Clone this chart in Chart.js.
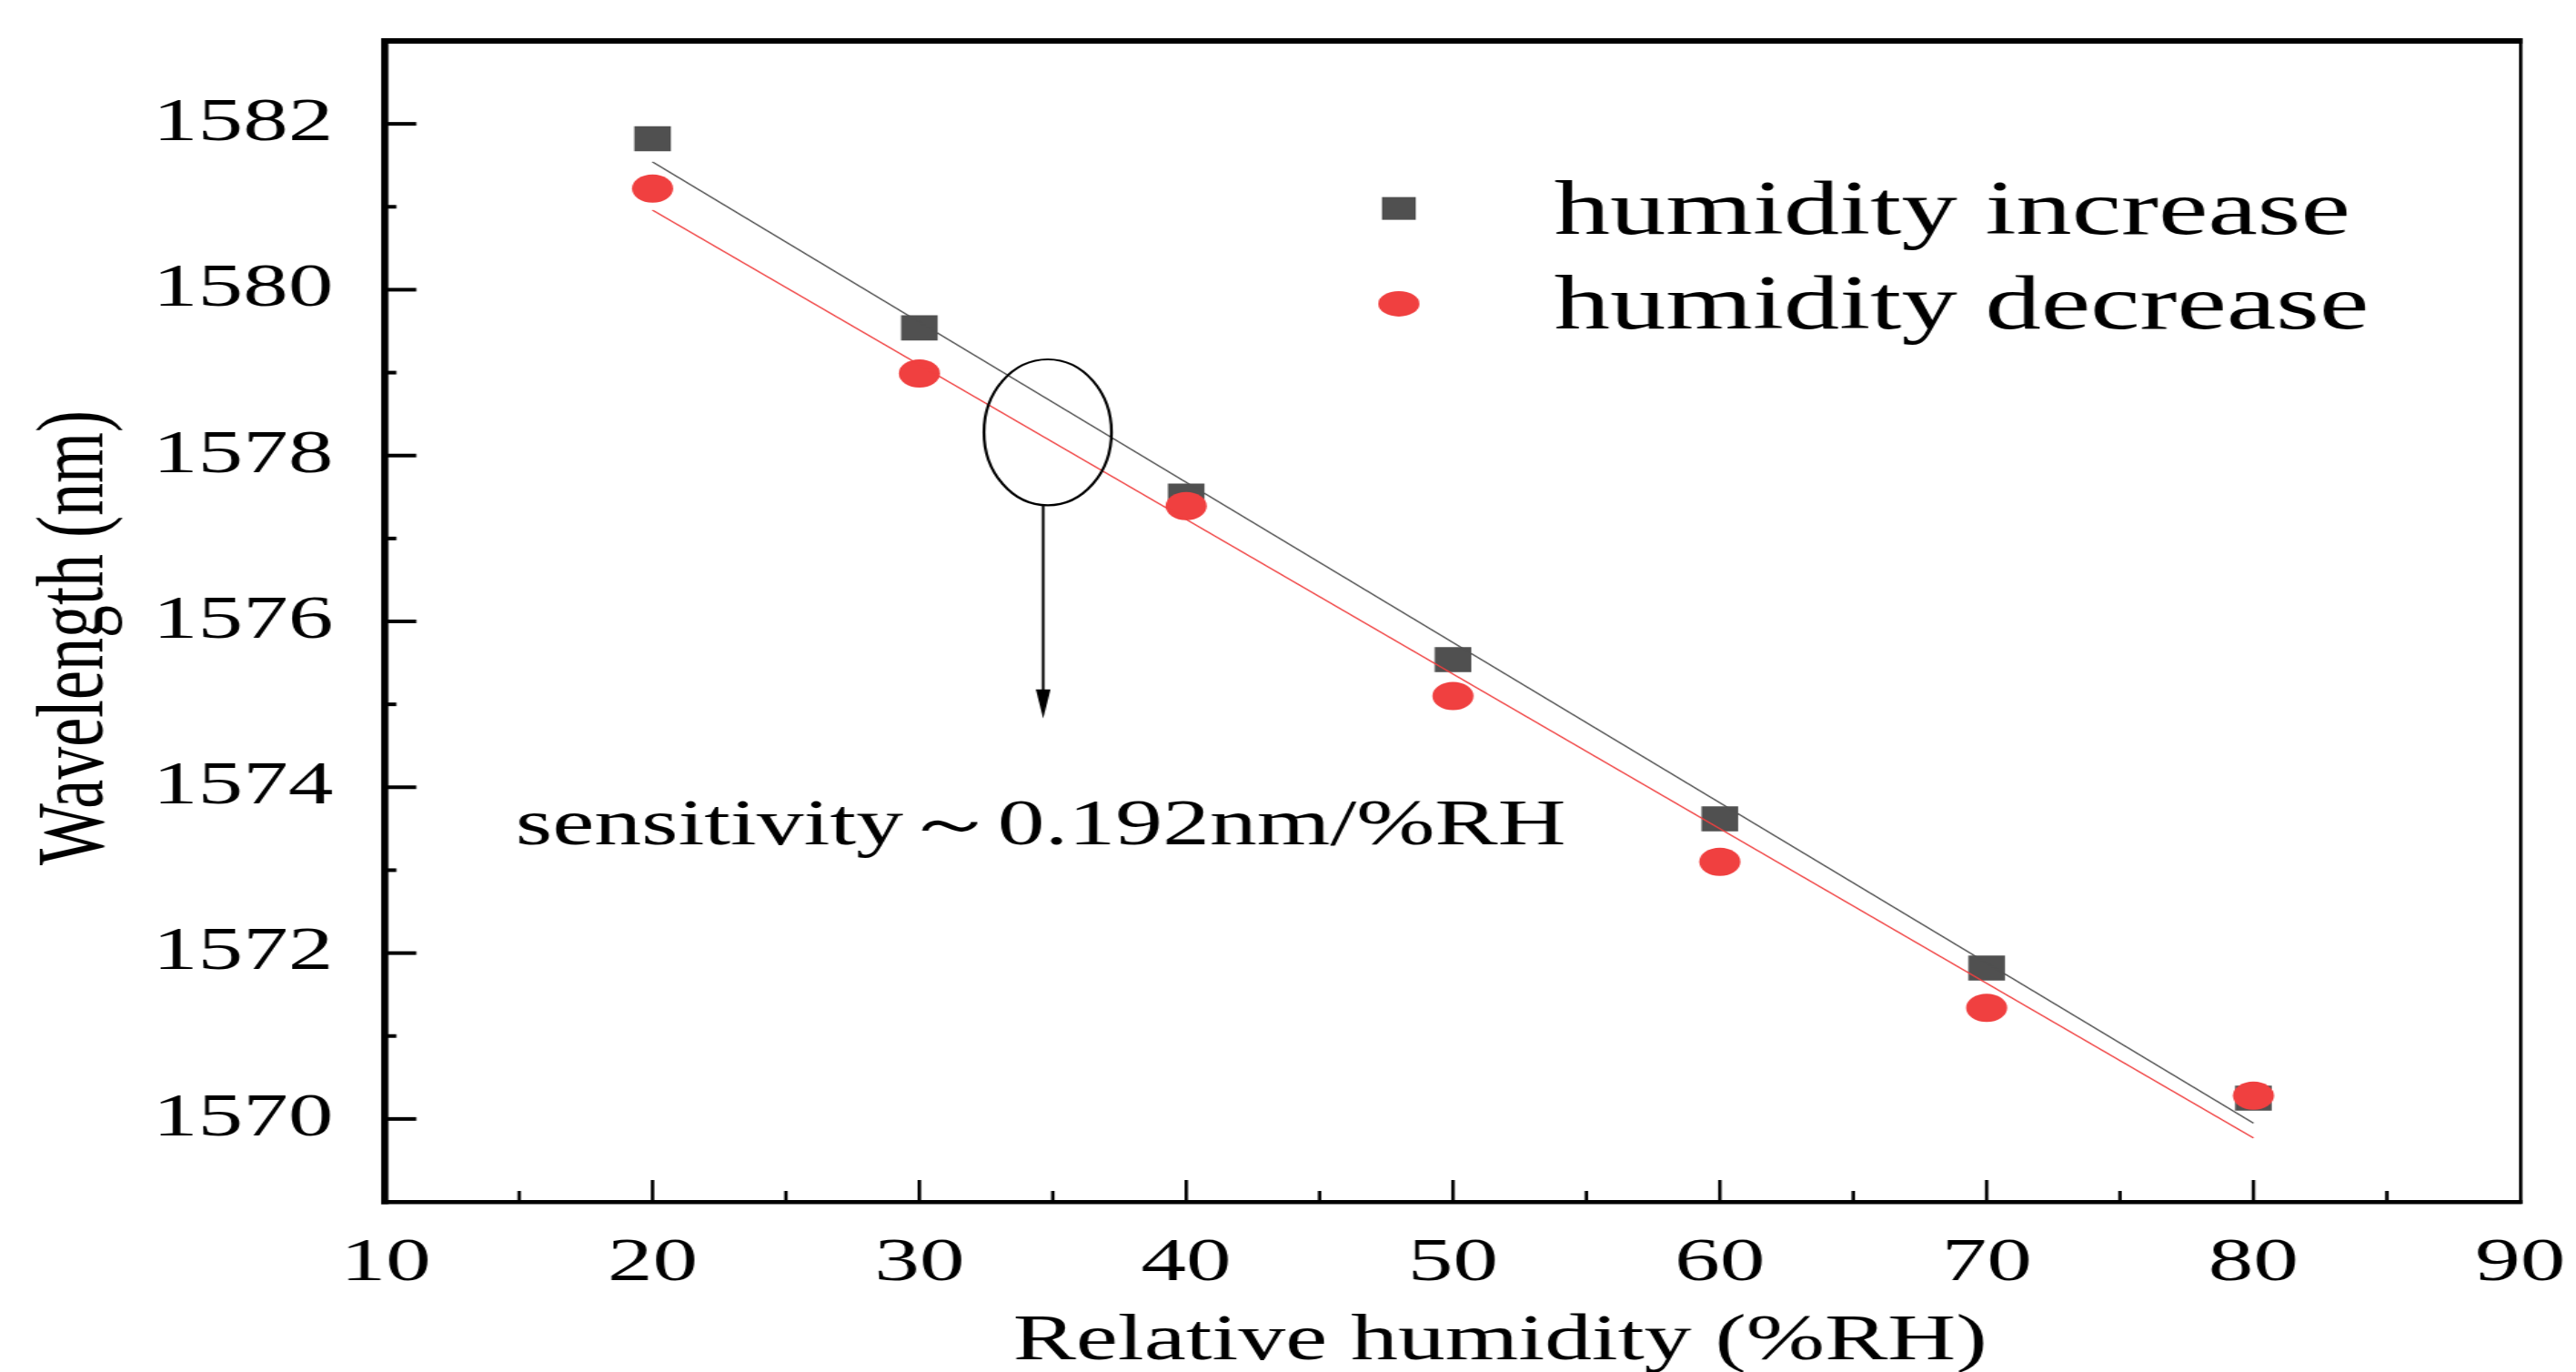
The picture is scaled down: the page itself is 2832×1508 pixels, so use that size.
<!DOCTYPE html>
<html>
<head>
<meta charset="utf-8">
<script src="https://cdn.jsdelivr.net/npm/chart.js@4.4.1/dist/chart.umd.min.js"></script>
<style>
  html, body { margin: 0; padding: 0; background: #fff; overflow: hidden; }
  /* the original figure is a horizontally stretched raster, so draw narrow and stretch */
  #wrap { position: absolute; left: 0; top: 0; width: 1940px; height: 1508px;
          transform: scaleX(1.4598); transform-origin: 0 0; }
</style>
</head>
<body>
<div id="wrap"><canvas id="chart"></canvas></div>
<script>
const humidity = [20, 30, 40, 50, 60, 70, 80];
const wlIncrease = [1581.82, 1579.54, 1577.51, 1575.54, 1573.62, 1571.82, 1570.25];
const wlDecrease = [1581.22, 1578.99, 1577.39, 1575.10, 1573.10, 1571.34, 1570.28];

// linear fits drawn in the figure
const fitX = [20, 80];
const fitIncrease = [1581.54, 1569.95];
const fitDecrease = [1580.96, 1569.77];

const xTicks = [10, 20, 30, 40, 50, 60, 70, 80, 90];
const xMinor = [15, 25, 35, 45, 55, 65, 75, 85];
const yTicks = [1570, 1572, 1574, 1576, 1578, 1580, 1582];
const yMinor = [1571, 1573, 1575, 1577, 1579, 1581];

const seriesNames = ["humidity increase", "humidity decrease"];
const note = "sensitivity～0.192nm/%RH";

const SERIF = "'Liberation Serif', 'Times New Roman', serif";
const GRAY = "#505050";
const RED = "#F04040";

function pts(xs, ys) {
  return xs.map((v, i) => ({ x: v, y: ys[i] }));
}

// frame, inward ticks, legend and the sensitivity note
const decor = {
  id: "decor",
  afterDraw(chart) {
    const { ctx, chartArea: a, scales: { x, y } } = chart;
    ctx.save();
    ctx.fillStyle = "#000";

    // frame
    ctx.fillRect(a.left - 3.5, a.top - 3, a.right - a.left + 5, 6);
    ctx.fillRect(a.left - 3.5, a.top - 3, 5.5, a.bottom - a.top + 5.5);
    ctx.fillRect(a.left - 3.5, a.bottom - 2, a.right - a.left + 5, 4.5);
    ctx.fillRect(a.right - 1, a.top - 3, 2.6, a.bottom - a.top + 5);

    // x ticks
    xTicks.forEach(v => {
      if (v <= x.min || v >= x.max) return;
      const px = x.getPixelForValue(v);
      ctx.fillRect(px - 1.3, a.bottom - 24, 2.6, 24);
    });
    xMinor.forEach(v => {
      const px = x.getPixelForValue(v);
      ctx.fillRect(px - 1.3, a.bottom - 12, 2.6, 12);
    });
    // y ticks
    yTicks.forEach(v => {
      const py = y.getPixelForValue(v);
      ctx.fillRect(a.left, py - 2, 23, 4);
    });
    yMinor.forEach(v => {
      const py = y.getPixelForValue(v);
      ctx.fillRect(a.left, py - 2, 8, 4);
    });

    // legend
    const lx = x.getPixelForValue(47.97);
    const tx = x.getPixelForValue(53.8);
    const r1 = y.getPixelForValue(1580.98);
    const r2 = y.getPixelForValue(1579.83);
    ctx.fillStyle = GRAY;
    ctx.fillRect(lx - 12.7, r1 - 12.5, 25.4, 25);
    ctx.fillStyle = RED;
    ctx.beginPath();
    ctx.ellipse(lx, r2, 15.5, 14, 0, 0, Math.PI * 2);
    ctx.fill();
    ctx.fillStyle = "#000";
    ctx.font = "84px " + SERIF;
    ctx.textAlign = "left";
    ctx.textBaseline = "alphabetic";
    ctx.fillText(seriesNames[0], tx, r1 + 28);
    ctx.fillText(seriesNames[1], tx, r2 + 27);

    // ellipse + arrow annotation
    const cx = x.getPixelForValue(34.81);
    const cy = y.getPixelForValue(1578.28);
    const rx = Math.abs(x.getPixelForValue(34.81 + 2.39) - cx);
    const ry = Math.abs(y.getPixelForValue(1578.28 + 0.88) - cy);
    ctx.strokeStyle = "#000";
    ctx.lineWidth = 2.2;
    ctx.beginPath();
    ctx.ellipse(cx, cy, rx, ry, 0, 0, Math.PI * 2);
    ctx.stroke();

    const ax = x.getPixelForValue(34.64);
    const tip = y.getPixelForValue(1574.83);
    ctx.lineWidth = 2;
    ctx.beginPath();
    ctx.moveTo(ax, cy + ry);
    ctx.lineTo(ax, tip - 20);
    ctx.stroke();
    ctx.beginPath();
    ctx.moveTo(ax - 5.5, tip - 32);
    ctx.lineTo(ax + 5.5, tip - 32);
    ctx.lineTo(ax, tip);
    ctx.closePath();
    ctx.fill();

    ctx.font = "71px " + SERIF;
    ctx.fillText(note, x.getPixelForValue(14.87), y.getPixelForValue(1573.31));

    ctx.restore();
  }
};

new Chart(document.getElementById("chart"), {
  type: "scatter",
  data: {
    datasets: [
      {
        label: seriesNames[0],
        data: pts(humidity, wlIncrease),
        pointStyle: "rect",
        pointRadius: 19.5,
        pointBorderWidth: 0,
        backgroundColor: GRAY,
        borderColor: GRAY,
        order: 4
      },
      {
        label: seriesNames[1],
        data: pts(humidity, wlDecrease),
        pointStyle: "circle",
        pointRadius: 15.5,
        pointBorderWidth: 0,
        backgroundColor: RED,
        borderColor: RED,
        order: 3
      },
      {
        label: "fit increase",
        data: pts(fitX, fitIncrease),
        showLine: true,
        pointRadius: 0,
        borderColor: GRAY,
        borderWidth: 1.3,
        order: 2
      },
      {
        label: "fit decrease",
        data: pts(fitX, fitDecrease),
        showLine: true,
        pointRadius: 0,
        borderColor: RED,
        borderWidth: 1.3,
        order: 1
      }
    ]
  },
  options: {
    responsive: true,
    maintainAspectRatio: false,
    animation: false,
    events: [],
    layout: { autoPadding: false, padding: { left: 0, top: 45, right: 42, bottom: 0 } },
    plugins: {
      legend: { display: false },
      tooltip: { enabled: false }
    },
    scales: {
      x: {
        type: "linear",
        min: 10,
        max: 90,
        afterBuildTicks: s => { s.ticks = xTicks.map(v => ({ value: v })); },
        afterFit: s => {
          s.height = 187;
          s.paddingLeft = s.paddingRight = s.paddingTop = s.paddingBottom = 0;
        },
        grid: { display: false },
        border: { display: false },
        ticks: {
          color: "#000",
          padding: 19,
          maxRotation: 0,
          callback: v => String(v),
          font: { family: SERIF, size: 68 }
        },
        title: {
          display: true,
          text: "    Relative humidity (%RH)",
          color: "#000",
          padding: 0,
          font: { family: SERIF, size: 71, lineHeight: 0.93 }
        }
      },
      y: {
        type: "linear",
        min: 1569,
        max: 1583,
        afterBuildTicks: s => { s.ticks = yTicks.map(v => ({ value: v })); },
        afterFit: s => {
          s.width = 290.5;
          s.paddingLeft = s.paddingRight = s.paddingTop = s.paddingBottom = 0;
        },
        grid: { display: false },
        border: { display: false },
        ticks: {
          color: "#000",
          padding: 31.5,
          callback: v => String(v),
          font: { family: SERIF, size: 68 }
        },
        title: {
          display: true,
          text: "Wavelength (nm)  ",
          color: "#000",
          padding: { top: 15, bottom: 0 },
          font: { family: SERIF, size: 72, lineHeight: 1.2 }
        }
      }
    }
  },
  plugins: [decor]
});
</script>
</body>
</html>
